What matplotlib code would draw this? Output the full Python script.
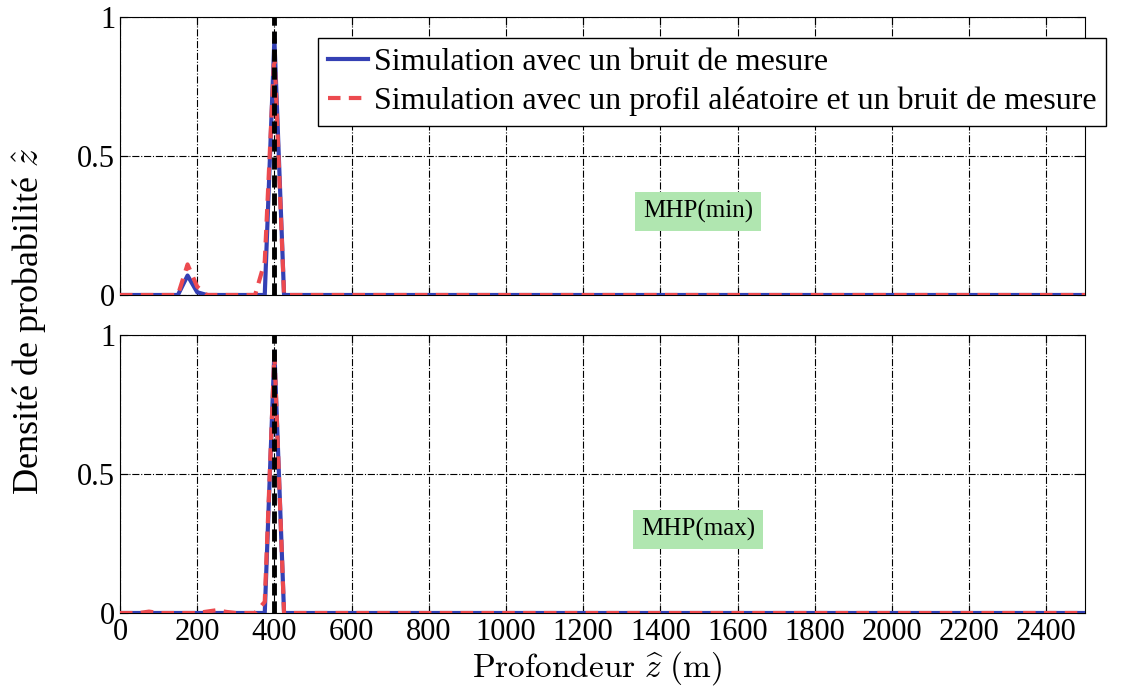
import matplotlib
matplotlib.use("Agg")
import matplotlib.pyplot as plt

plt.rcParams['font.family'] = ['Liberation Serif', 'DejaVu Serif']
plt.rcParams['mathtext.fontset'] = 'cm'

# depth points (m) and probability densities
depth_min_blue = [0, 150, 175, 200, 225, 375, 400, 425, 2500]
dens_min_blue = [0, 0, 0.07, 0.01, 0, 0, 0.92, 0, 0]
depth_min_red = [0, 150, 175, 200, 225, 350, 375, 400, 425, 2500]
dens_min_red = [0, 0, 0.11, 0.03, 0, 0, 0.12, 0.87, 0, 0]

depth_max_blue = [0, 375, 400, 425, 2500]
dens_max_blue = [0, 0, 0.94, 0, 0]
depth_max_red = [0, 50, 75, 100, 200, 225, 250, 275, 300, 350, 375, 400, 425, 2500]
dens_max_red = [0, 0, 0.005, 0, 0, 0.005, 0.01, 0.004, 0, 0, 0.04, 0.93, 0, 0]

true_depth = 400
xticks = list(range(0, 2600, 200))
yticks = [0, 0.5, 1]
labels = ['Simulation avec un bruit de mesure',
          'Simulation avec un profil aléatoire et un bruit de mesure']
boxes = ['MHP(min)', 'MHP(max)']

blue = '#3440b4'
red = '#ec4a4f'

fig = plt.figure(figsize=(11.22, 6.9), dpi=100)
ax1 = fig.add_axes([120/1122, 1-295/690, 965/1122, 278/690])
ax2 = fig.add_axes([120/1122, 1-613/690, 965/1122, 278/690])

series = [
    (ax1, depth_min_blue, dens_min_blue, depth_min_red, dens_min_red, boxes[0]),
    (ax2, depth_max_blue, dens_max_blue, depth_max_red, dens_max_red, boxes[1]),
]

for ax, xb, yb, xr, yr, box in series:
    ax.plot(xb, yb, color=blue, lw=3, label=labels[0], zorder=3)
    ax.plot(xr, yr, color=red, lw=3, ls=(0, (3, 2)), label=labels[1], zorder=4)
    ax.plot([true_depth, true_depth], [0, 1], color='black', lw=3.5,
            ls=(0, (2.5, 1.2)), zorder=5)
    ax.set_xlim(0, 2500)
    ax.set_ylim(0, 1)
    ax.set_xticks(xticks)
    ax.set_yticks(yticks)
    ax.set_yticklabels(['0', '0.5', '1'])
    ax.grid(True, color='black', ls='-.', lw=0.8)
    ax.tick_params(direction='in', labelsize=22, length=6, width=0.8, top=True, right=True)
    for s in ax.spines.values():
        s.set_linewidth(0.8)
    ax.text(1497, 0.30, box, fontsize=18, ha='center', va='center',
            bbox=dict(facecolor='#b0e6b0', edgecolor='none', pad=6), zorder=6)

ax1.tick_params(labelbottom=False)
ax2.set_xticklabels([str(t) for t in xticks])

fig.text(30/1122, 1 - 322/690, r'Densité de probabilité $\hat{z}$',
         rotation=90, ha='center', va='center', fontsize=26)
fig.text(597/1122, 1 - 668/690, r'$\mathrm{Profondeur}\ \widehat{z}\ \mathrm{(m)}$',
         ha='center', va='center', fontsize=24)

leg = ax1.legend(loc='upper left', bbox_to_anchor=(318/1122, 1 - 38/690),
                 bbox_transform=fig.transFigure, fontsize=23, frameon=True,
                 fancybox=False, edgecolor='black', framealpha=1,
                 handlelength=1.25, handletextpad=0.2, borderpad=0.3,
                 labelspacing=0.3, borderaxespad=0)
leg.get_frame().set_linewidth(1.0)
leg.set_zorder(10)

fig.savefig('out.png', dpi=100)
